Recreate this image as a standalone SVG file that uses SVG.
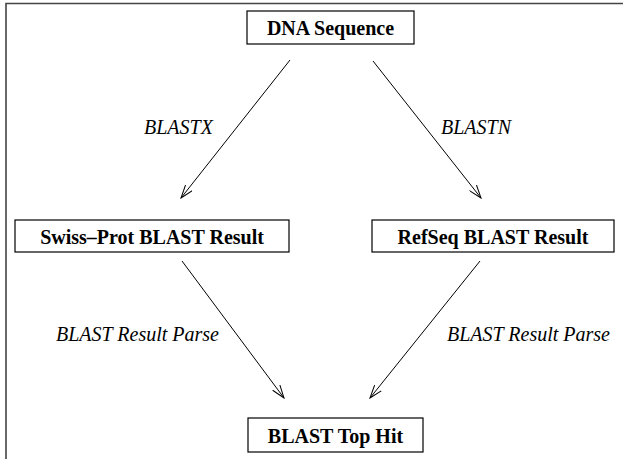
<svg xmlns="http://www.w3.org/2000/svg" width="623" height="459" viewBox="0 0 623 459">
<style>
.box{fill:#fff;stroke:#000;stroke-width:1.2}
.t{font-family:'Liberation Serif','DejaVu Serif',serif;font-weight:bold;font-size:20px;text-anchor:middle;fill:#000}
.l{font-family:'Liberation Serif','DejaVu Serif',serif;font-style:italic;font-size:20px;fill:#000}
.c{stroke:#000;stroke-width:1;fill:none}
.frame{stroke:#444;stroke-width:1.6;fill:none}
</style>
<defs>
<marker id="ah" viewBox="0 0 14 10" refX="13" refY="5" markerWidth="14" markerHeight="10" markerUnits="userSpaceOnUse" orient="auto">
<path d="M0,0.5 L13,5 L0,9.5" fill="none" stroke="#000" stroke-width="1"/>
</marker>
</defs>
<path class="frame" d="M6,459 V3.5 H623"/>
<g id="connectors">
<line class="c" x1="290" y1="60" x2="181" y2="198" marker-end="url(#ah)"/>
<line class="c" x1="373" y1="61" x2="481" y2="198" marker-end="url(#ah)"/>
<line class="c" x1="182" y1="261" x2="284" y2="398" marker-end="url(#ah)"/>
<line class="c" x1="480" y1="261" x2="370" y2="398" marker-end="url(#ah)"/>
<text class="l" x="144" y="134">BLASTX</text>
<text class="l" x="441" y="134">BLASTN</text>
<text class="l" x="56" y="341">BLAST Result Parse</text>
<text class="l" x="447" y="341">BLAST Result Parse</text>
</g>
<g id="dna">
<rect class="box" x="247" y="11" width="167" height="33"/>
<text class="t" x="330.5" y="35">DNA Sequence</text>
</g>
<g id="swiss">
<rect class="box" x="15" y="220" width="274" height="32"/>
<text class="t" x="152" y="244">Swiss–Prot BLAST Result</text>
</g>
<g id="refseq">
<rect class="box" x="372" y="220" width="242" height="32"/>
<text class="t" x="493" y="244">RefSeq BLAST Result</text>
</g>
<g id="tophit">
<rect class="box" x="248" y="418" width="175" height="34"/>
<text class="t" x="335.5" y="443">BLAST Top Hit</text>
</g>
</svg>
